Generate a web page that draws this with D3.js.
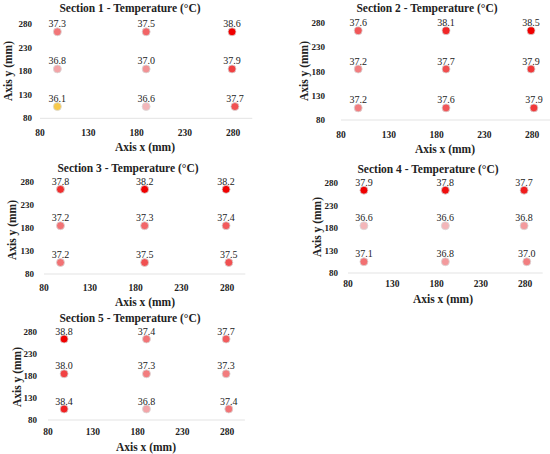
<!DOCTYPE html>
<html>
<head>
<meta charset="utf-8">
<script src="https://cdn.jsdelivr.net/npm/d3@7"></script>
<style>
  body { margin: 0; background: #fff; }
  svg { display: block; }
  text { font-family: "Liberation Serif", "DejaVu Serif", serif; fill: #222; }
</style>
</head>
<body>
<svg id="chart" width="550" height="454"></svg>
<script>
// measurement grid (mm), rows top -> bottom, columns left -> right
var colX = [98, 190, 279];
var colXBottom = [98, 190, 282];
var rowY = [264, 185, 105];

// temperatures per section, rows top -> bottom
var section1 = [[37.3, 37.5, 38.6], [36.8, 37.0, 37.9], [36.1, 36.6, 37.7]];
var section2 = [[37.6, 38.1, 38.5], [37.2, 37.7, 37.9], [37.2, 37.6, 37.9]];
var section3 = [[37.8, 38.2, 38.2], [37.2, 37.3, 37.4], [37.2, 37.5, 37.5]];
var section4 = [[37.9, 37.8, 37.7], [36.6, 36.6, 36.8], [37.1, 36.8, 37.0]];
var section5 = [[38.8, 37.4, 37.7], [38.0, 37.3, 37.3], [38.4, 36.8, 37.4]];

var sectionNames = ["Section 1", "Section 2", "Section 3", "Section 4", "Section 5"];
var xTicks = [80, 130, 180, 230, 280];
var yTicks = [80, 130, 180, 230, 280];

var sections = [section1, section2, section3, section4, section5];

// where each little chart sits on the page
var panels = [
  {x80: 40,  x280: 233, y280: 24.3, y80: 118.3, tickRight: 32,  title: [130, 8],   xTickY: 133, xTitle: [145, 147], yTitle: [8, 71]},
  {x80: 341, x280: 532, y280: 23,   y80: 120,   tickRight: 325, title: [427, 8],   xTickY: 135, xTitle: [445, 149], yTitle: [304, 71]},
  {x80: 44,  x280: 227, y280: 182,  y80: 274,   tickRight: 34,  title: [128, 168], xTickY: 288, xTitle: [145, 302], yTitle: [12, 230]},
  {x80: 348, x280: 525, y280: 183,  y80: 273,   tickRight: 338, title: [428, 169], xTickY: 284, xTitle: [443, 299], yTitle: [317, 227]},
  {x80: 48,  x280: 227, y280: 332,  y80: 420,   tickRight: 37,  title: [130, 318], xTickY: 432, xTitle: [146, 447], yTitle: [17, 377]}
];

var svg = d3.select("#chart");

sections.forEach(function(temps, i) {
  var p = panels[i];
  var x = d3.scaleLinear().domain([80, 280]).range([p.x80, p.x280]);
  var y = d3.scaleLinear().domain([80, 280]).range([p.y80, p.y280]);

  var flat = [];
  temps.forEach(function(row, r) {
    row.forEach(function(t, c) {
      flat.push({t: t, xm: r == 2 ? colXBottom[c] : colX[c], ym: rowY[r]});
    });
  });
  var tmax = d3.max(flat, function(d) { return d.t; });
  var color = d3.scaleLinear()
    .domain([36.1, 36.6, tmax])
    .range(["#f7c94a", "#f3b6b9", "#f00000"])
    .clamp(true);

  var g = svg.append("g");

  g.append("text")
    .attr("x", p.title[0]).attr("y", p.title[1])
    .attr("text-anchor", "middle").attr("dominant-baseline", "central")
    .style("font-size", "11.5px").style("font-weight", "bold")
    .text(sectionNames[i] + " - Temperature (\u00B0C)");

  // baseline of the plot
  g.append("line")
    .attr("x1", x(80)).attr("x2", x(300))
    .attr("y1", y(80)).attr("y2", y(80))
    .attr("stroke", "#e3e3e3").attr("stroke-width", 1);

  g.selectAll(".ytick").data(yTicks).enter().append("text")
    .attr("x", p.tickRight).attr("y", function(d) { return y(d); })
    .attr("text-anchor", "end").attr("dominant-baseline", "central")
    .style("font-size", "9px").style("font-weight", "bold")
    .text(function(d) { return d; });

  g.selectAll(".xtick").data(xTicks).enter().append("text")
    .attr("x", function(d) { return x(d); }).attr("y", p.xTickY)
    .attr("text-anchor", "middle").attr("dominant-baseline", "central")
    .style("font-size", "9.5px").style("font-weight", "bold")
    .text(function(d) { return d; });

  g.append("text")
    .attr("x", p.xTitle[0]).attr("y", p.xTitle[1])
    .attr("text-anchor", "middle").attr("dominant-baseline", "central")
    .style("font-size", "11.5px").style("font-weight", "bold")
    .text("Axis x (mm)");

  g.append("text")
    .attr("transform", "translate(" + p.yTitle[0] + "," + p.yTitle[1] + ") rotate(-90)")
    .attr("text-anchor", "middle").attr("dominant-baseline", "central")
    .style("font-size", "11.5px").style("font-weight", "bold")
    .text("Axis y (mm)");

  g.selectAll("circle").data(flat).enter().append("circle")
    .attr("cx", function(d) { return x(d.xm); })
    .attr("cy", function(d) { return y(d.ym); })
    .attr("r", 4)
    .attr("fill", function(d) { return color(d.t); })
    .attr("stroke", "#d9d9d9").attr("stroke-width", 0.8);

  g.selectAll(".lbl").data(flat).enter().append("text")
    .attr("x", function(d) { return x(d.xm); })
    .attr("y", function(d) { return y(d.ym) - 8; })
    .attr("text-anchor", "middle").attr("dominant-baseline", "central")
    .style("font-size", "10px")
    .text(function(d) { return d.t.toFixed(1); });
});
</script>
</body>
</html>
